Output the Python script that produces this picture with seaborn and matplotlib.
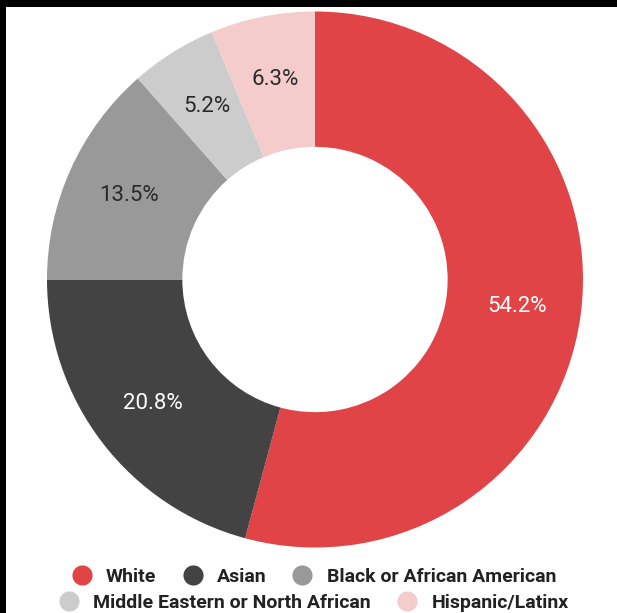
import matplotlib.pyplot as plt
import seaborn as sns
from matplotlib.lines import Line2D
from matplotlib.patches import Rectangle

# data
groups = ['White', 'Asian', 'Black or African American',
          'Middle Eastern or North African', 'Hispanic/Latinx']
shares = [54.2, 20.8, 13.5, 5.2, 6.3]
colors = ['#e04446', '#434343', '#999999', '#cccccc', '#f4cccc']
label_colors = ['white', 'white', '#2a2a2a', '#2a2a2a', '#2a2a2a']

sns.set_theme(style='white')
plt.rcParams['font.family'] = ['Roboto', 'DejaVu Sans']

fig = plt.figure(figsize=(6.17, 6.13), dpi=100, facecolor='black')
# white canvas, black strip left and top
fig.patches.append(Rectangle((6 / 617, 0), 1, (613 - 7) / 613,
                             transform=fig.transFigure, facecolor='white',
                             edgecolor='none', zorder=-5))

ax = fig.add_axes([47 / 617, 65.5 / 613, 536 / 617, 536 / 613])
ax.set_zorder(2)
ax.set_facecolor('none')
wedges, texts, autotexts = ax.pie(
    shares, colors=colors, startangle=90, counterclock=False,
    autopct=lambda p: f'{p:.1f}%', pctdistance=0.76,
    wedgeprops=dict(width=0.505, edgecolor='none'),
    textprops=dict(fontsize=16))
for t, c in zip(autotexts, label_colors):
    t.set_color(c)
ax.set_xlim(-1, 1)
ax.set_ylim(-1, 1)
ax.set_aspect('equal')
ax.axis('off')

def handles(idx):
    return [Line2D([], [], marker='o', linestyle='none', markersize=14.5,
                   markerfacecolor=colors[i], markeredgecolor='none')
            for i in idx]

leg_kw = dict(frameon=False, handletextpad=0.74, columnspacing=1.36,
              handlelength=1.0, prop=dict(size=14, weight='semibold'))
leg1 = fig.legend(handles([0, 1, 2]), groups[:3], loc='center',
                  bbox_to_anchor=(0.509, 0.059), ncol=3, **leg_kw)
leg2 = fig.legend(handles([3, 4]), groups[3:], loc='center',
                  bbox_to_anchor=(0.509, 0.017), ncol=2, **leg_kw)
for leg in (leg1, leg2):
    leg.set_zorder(3)
    for t in leg.get_texts():
        t.set_color('#222222')

fig.savefig('out.png', dpi=100, facecolor=fig.get_facecolor())
